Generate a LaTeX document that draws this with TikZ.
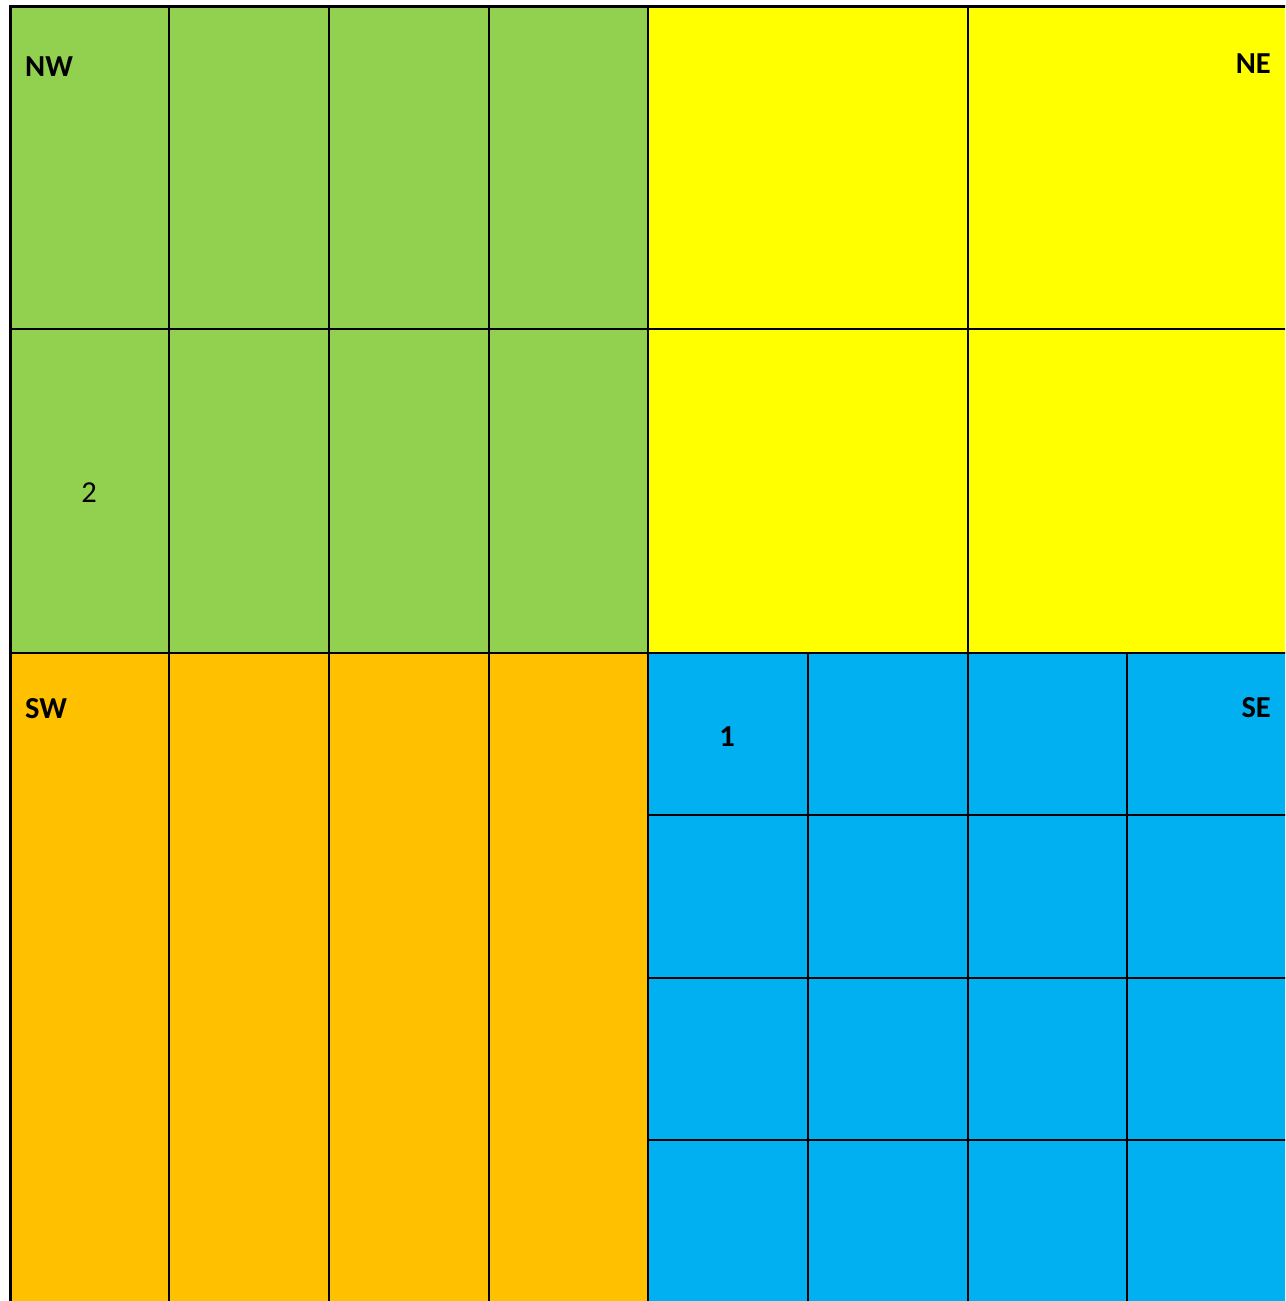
\documentclass[tikz,border=0pt]{standalone}
\usepackage{fontspec}
\setmainfont{Carlito}
\definecolor{nwgreen}{HTML}{92D050}
\definecolor{neyellow}{HTML}{FFFF00}
\definecolor{sworange}{HTML}{FFC000}
\definecolor{seblue}{HTML}{00B0F0}
\begin{document}
\begin{tikzpicture}[x=1pt,y=-1pt,
  gridline/.style={line width=2pt,black},
  outerline/.style={line width=3pt,black},
  lab/.style={font=\bfseries\fontsize{30.5}{32}\selectfont,inner sep=0pt},
  num/.style={font=\fontsize{30.5}{32}\selectfont,inner sep=0pt}]
\useasboundingbox (0,0) rectangle (1285,1301);
\clip (0,0) rectangle (1285,1301);
% quadrant fills
\fill[nwgreen] (10,7) rectangle (648,653);
\fill[neyellow] (648,7) rectangle (1295,653);
\fill[sworange] (10,653) rectangle (648,1310);
\fill[seblue] (648,653) rectangle (1295,1310);
% vertical grid lines
\foreach \x in {169,329,489,648,968} \draw[gridline] (\x,7) -- (\x,1310);
\foreach \x in {808,1127} \draw[gridline] (\x,653) -- (\x,1310);
% horizontal grid lines
\foreach \y in {329,653} \draw[gridline] (10,\y) -- (1295,\y);
\foreach \y in {815,978,1140} \draw[gridline] (648,\y) -- (1295,\y);
% outer border
\draw[outerline] (10,1310) -- (10,6) -- (1295,6);
% labels
\node[lab,anchor=base west] (nw) at (25,76) {NW};
\node[lab,anchor=base east] (ne) at (1271,73) {NE};
\node[lab,anchor=base west] (sw) at (25,718) {SW};
\node[lab,anchor=base east] (se) at (1271,717) {SE};
\node[lab,anchor=base] (one) at (727,746) {1};
\node[num,anchor=base] (two) at (89,502) {2};
\end{tikzpicture}
\end{document}
